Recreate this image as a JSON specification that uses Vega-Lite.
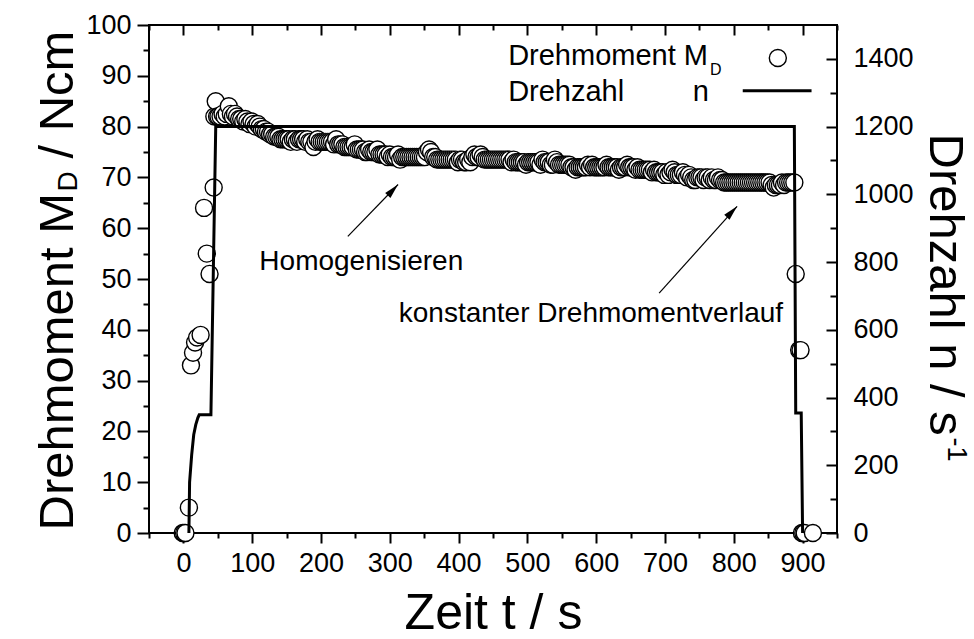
{
  "$schema": "https://vega.github.io/schema/vega-lite/v6.json",
  "width": 688,
  "height": 508,
  "autosize": {"type": "none"},
  "padding": {"left": 149, "top": 25, "right": 137, "bottom": 106},
  "background": "white",
  "config": {
    "view": {"stroke": "black", "strokeWidth": 2},
    "font": "Liberation Sans",
    "axis": {
      "labelFont": "Liberation Sans",
      "titleFont": "Liberation Sans",
      "labelColor": "black",
      "titleColor": "black",
      "tickColor": "black",
      "tickWidth": 2,
      "domain": false,
      "grid": false,
      "labelFontSize": 27,
      "titleFontWeight": "normal",
      "labelOverlap": false,
      "labelFlush": false,
      "labelBound": false,
      "format": "d"
    }
  },
  "datasets": {
    "torque": [
      {"t": -1, "m": 0}, {"t": 1, "m": 0}, {"t": 3, "m": 0}, {"t": 8, "m": 5},
      {"t": 11, "m": 33}, {"t": 14, "m": 35.5}, {"t": 17, "m": 37.5}, {"t": 20, "m": 38.5},
      {"t": 25, "m": 39}, {"t": 30, "m": 64}, {"t": 34, "m": 55}, {"t": 38, "m": 51},
      {"t": 44, "m": 68}, {"t": 45, "m": 82}, {"t": 47, "m": 85}, {"t": 49, "m": 82},
      {"t": 51, "m": 82}, {"t": 54, "m": 82}, {"t": 57, "m": 82.5}, {"t": 60, "m": 82},
      {"t": 63, "m": 82.5}, {"t": 66, "m": 84}, {"t": 69, "m": 82.5}, {"t": 72, "m": 82},
      {"t": 75, "m": 82.5}, {"t": 78, "m": 82}, {"t": 81, "m": 81.5}, {"t": 84, "m": 81.5},
      {"t": 87, "m": 81}, {"t": 90, "m": 81.5}, {"t": 93, "m": 81}, {"t": 96, "m": 80.5},
      {"t": 99, "m": 81}, {"t": 102, "m": 80.5}, {"t": 105, "m": 80}, {"t": 108, "m": 80.5},
      {"t": 111, "m": 80}, {"t": 114, "m": 79.5}, {"t": 117, "m": 79.5}, {"t": 120, "m": 79},
      {"t": 123, "m": 79}, {"t": 126, "m": 78.5}, {"t": 129, "m": 78.5}, {"t": 132, "m": 78},
      {"t": 135, "m": 78}, {"t": 138, "m": 78}, {"t": 141, "m": 77.5}, {"t": 144, "m": 77.5},
      {"t": 147, "m": 77.5}, {"t": 150, "m": 77.5}, {"t": 153, "m": 77.5}, {"t": 156, "m": 77},
      {"t": 159, "m": 77.5}, {"t": 162, "m": 77.5}, {"t": 165, "m": 77}, {"t": 168, "m": 77.5},
      {"t": 171, "m": 77.5}, {"t": 174, "m": 77.5}, {"t": 177, "m": 77}, {"t": 180, "m": 77.5},
      {"t": 183, "m": 77}, {"t": 186, "m": 77}, {"t": 189, "m": 76}, {"t": 192, "m": 77},
      {"t": 195, "m": 77.5}, {"t": 198, "m": 77}, {"t": 201, "m": 77}, {"t": 204, "m": 77},
      {"t": 207, "m": 77}, {"t": 210, "m": 77}, {"t": 213, "m": 77}, {"t": 216, "m": 77},
      {"t": 219, "m": 76.5}, {"t": 222, "m": 77.5}, {"t": 225, "m": 76.5}, {"t": 228, "m": 76.5},
      {"t": 231, "m": 76.5}, {"t": 234, "m": 76}, {"t": 237, "m": 76}, {"t": 240, "m": 76},
      {"t": 243, "m": 76}, {"t": 246, "m": 76}, {"t": 249, "m": 76.5}, {"t": 252, "m": 75.5},
      {"t": 255, "m": 75.5}, {"t": 258, "m": 75.5}, {"t": 261, "m": 75.5}, {"t": 264, "m": 75},
      {"t": 267, "m": 75}, {"t": 270, "m": 75.5}, {"t": 273, "m": 75}, {"t": 276, "m": 75},
      {"t": 279, "m": 75}, {"t": 282, "m": 75.5}, {"t": 285, "m": 74.5}, {"t": 288, "m": 74.5},
      {"t": 291, "m": 74.5}, {"t": 294, "m": 74.5}, {"t": 297, "m": 74}, {"t": 300, "m": 74.5},
      {"t": 303, "m": 74}, {"t": 306, "m": 74}, {"t": 309, "m": 74}, {"t": 312, "m": 74.5},
      {"t": 315, "m": 73.5}, {"t": 318, "m": 74}, {"t": 321, "m": 74}, {"t": 324, "m": 74},
      {"t": 327, "m": 74}, {"t": 330, "m": 74}, {"t": 333, "m": 74}, {"t": 336, "m": 74},
      {"t": 339, "m": 74}, {"t": 342, "m": 74}, {"t": 345, "m": 74}, {"t": 348, "m": 74},
      {"t": 351, "m": 74}, {"t": 354, "m": 75}, {"t": 357, "m": 75.5}, {"t": 360, "m": 75},
      {"t": 363, "m": 74}, {"t": 366, "m": 74}, {"t": 369, "m": 73.5}, {"t": 372, "m": 73.5},
      {"t": 375, "m": 73.5}, {"t": 378, "m": 73.5}, {"t": 381, "m": 73.5}, {"t": 384, "m": 73.5},
      {"t": 387, "m": 73.5}, {"t": 390, "m": 73.5}, {"t": 393, "m": 73.5}, {"t": 396, "m": 73.5},
      {"t": 399, "m": 73}, {"t": 402, "m": 73.5}, {"t": 405, "m": 73.5}, {"t": 408, "m": 73},
      {"t": 411, "m": 73}, {"t": 414, "m": 73.5}, {"t": 417, "m": 73}, {"t": 420, "m": 74},
      {"t": 423, "m": 74.5}, {"t": 426, "m": 74}, {"t": 429, "m": 74}, {"t": 432, "m": 74.5},
      {"t": 435, "m": 74}, {"t": 438, "m": 73.5}, {"t": 441, "m": 73.5}, {"t": 444, "m": 73.5},
      {"t": 447, "m": 73.5}, {"t": 450, "m": 73.5}, {"t": 453, "m": 73.5}, {"t": 456, "m": 73.5},
      {"t": 459, "m": 73.5}, {"t": 462, "m": 73.5}, {"t": 465, "m": 73.5}, {"t": 468, "m": 73.5},
      {"t": 471, "m": 73.5}, {"t": 474, "m": 73.5}, {"t": 477, "m": 73}, {"t": 480, "m": 73.5},
      {"t": 483, "m": 73}, {"t": 486, "m": 73}, {"t": 489, "m": 73}, {"t": 492, "m": 73},
      {"t": 495, "m": 73}, {"t": 498, "m": 72.5}, {"t": 501, "m": 73}, {"t": 504, "m": 73},
      {"t": 507, "m": 73}, {"t": 510, "m": 73}, {"t": 513, "m": 73}, {"t": 516, "m": 73},
      {"t": 519, "m": 72.5}, {"t": 522, "m": 73.5}, {"t": 525, "m": 73}, {"t": 528, "m": 73},
      {"t": 531, "m": 73}, {"t": 534, "m": 72.5}, {"t": 537, "m": 72.5}, {"t": 540, "m": 73.5},
      {"t": 543, "m": 73}, {"t": 546, "m": 72.5}, {"t": 549, "m": 72.5}, {"t": 552, "m": 72.5},
      {"t": 555, "m": 72.5}, {"t": 558, "m": 72.5}, {"t": 561, "m": 72.5}, {"t": 564, "m": 72},
      {"t": 567, "m": 72}, {"t": 570, "m": 71.5}, {"t": 573, "m": 72}, {"t": 576, "m": 72},
      {"t": 579, "m": 72}, {"t": 582, "m": 72}, {"t": 585, "m": 72}, {"t": 588, "m": 72.5},
      {"t": 591, "m": 72}, {"t": 594, "m": 72.5}, {"t": 597, "m": 72}, {"t": 600, "m": 72},
      {"t": 603, "m": 72}, {"t": 606, "m": 72}, {"t": 609, "m": 72}, {"t": 612, "m": 72},
      {"t": 615, "m": 72.5}, {"t": 618, "m": 72}, {"t": 621, "m": 72}, {"t": 624, "m": 72},
      {"t": 627, "m": 72}, {"t": 630, "m": 72}, {"t": 633, "m": 71.5}, {"t": 636, "m": 72},
      {"t": 639, "m": 72}, {"t": 642, "m": 72}, {"t": 645, "m": 72.5}, {"t": 648, "m": 72},
      {"t": 651, "m": 72}, {"t": 654, "m": 72}, {"t": 657, "m": 71.5}, {"t": 660, "m": 72},
      {"t": 663, "m": 71.5}, {"t": 666, "m": 71.5}, {"t": 669, "m": 71.5}, {"t": 672, "m": 71.5},
      {"t": 675, "m": 71.5}, {"t": 678, "m": 71.5}, {"t": 681, "m": 71}, {"t": 684, "m": 71.5},
      {"t": 687, "m": 71}, {"t": 690, "m": 71}, {"t": 693, "m": 71}, {"t": 696, "m": 71},
      {"t": 699, "m": 70.5}, {"t": 702, "m": 71}, {"t": 705, "m": 70.5}, {"t": 708, "m": 71},
      {"t": 711, "m": 71.5}, {"t": 714, "m": 71}, {"t": 717, "m": 70.5}, {"t": 720, "m": 70.5},
      {"t": 723, "m": 70.5}, {"t": 726, "m": 71}, {"t": 729, "m": 70.5}, {"t": 732, "m": 70},
      {"t": 735, "m": 70.5}, {"t": 738, "m": 70}, {"t": 741, "m": 69.5}, {"t": 744, "m": 69.5},
      {"t": 747, "m": 70}, {"t": 750, "m": 70}, {"t": 753, "m": 70}, {"t": 756, "m": 69.5},
      {"t": 759, "m": 70}, {"t": 762, "m": 70}, {"t": 765, "m": 69.5}, {"t": 768, "m": 70},
      {"t": 771, "m": 69.5}, {"t": 774, "m": 69.5}, {"t": 777, "m": 70}, {"t": 780, "m": 69.5},
      {"t": 783, "m": 69.5}, {"t": 786, "m": 69}, {"t": 789, "m": 69}, {"t": 792, "m": 69},
      {"t": 795, "m": 69}, {"t": 798, "m": 69}, {"t": 801, "m": 69}, {"t": 804, "m": 69},
      {"t": 807, "m": 69}, {"t": 810, "m": 69}, {"t": 813, "m": 69}, {"t": 816, "m": 69},
      {"t": 819, "m": 69}, {"t": 822, "m": 69}, {"t": 825, "m": 69}, {"t": 828, "m": 69},
      {"t": 831, "m": 69}, {"t": 834, "m": 69}, {"t": 837, "m": 69}, {"t": 840, "m": 69},
      {"t": 843, "m": 69}, {"t": 846, "m": 69}, {"t": 849, "m": 69}, {"t": 852, "m": 69},
      {"t": 855, "m": 68.5}, {"t": 858, "m": 68}, {"t": 861, "m": 68.5}, {"t": 864, "m": 68.5},
      {"t": 867, "m": 68.5}, {"t": 870, "m": 69}, {"t": 873, "m": 68.5}, {"t": 876, "m": 69},
      {"t": 879, "m": 69}, {"t": 882, "m": 69}, {"t": 885, "m": 69}, {"t": 888, "m": 69},
      {"t": 890, "m": 51}, {"t": 895, "m": 36}, {"t": 897, "m": 36}, {"t": 899, "m": 0},
      {"t": 901, "m": 0}, {"t": 903, "m": 0}, {"t": 915, "m": 0}
    ],
    "speed": [
      {"t": 8, "n": 0}, {"t": 9, "n": 150}, {"t": 12, "n": 230}, {"t": 15, "n": 290},
      {"t": 18, "n": 320}, {"t": 21, "n": 340}, {"t": 23, "n": 349}, {"t": 40, "n": 349},
      {"t": 47, "n": 1200}, {"t": 888, "n": 1200}, {"t": 890, "n": 354}, {"t": 898, "n": 354},
      {"t": 900, "n": 0}
    ],
    "notes": [
      {"t": 110.4, "m": 51.8, "label": "Homogenisieren"},
      {"t": 313, "m": 41.6, "label": "konstanter Drehmomentverlauf"}
    ],
    "arrows": [
      {"t": 239, "m": 58.4, "t2": 312, "m2": 68.6},
      {"t": 691.5, "m": 47.2, "t2": 804.8, "m2": 64.3}
    ],
    "legendText": [
      {"t": 472, "m": 92.2, "label": "Drehmoment M"},
      {"t": 472, "m": 85, "label": "Drehzahl"},
      {"t": 740.5, "m": 85, "label": "n"}
    ],
    "legendSub": [
      {"t": 765.5, "m": 90.2, "label": "D"}
    ],
    "legendLine": [
      {"t": 813, "t2": 913, "n": 1306}
    ],
    "legendMark": [
      {"t": 864, "m": 93.5}
    ]
  },
  "resolve": {
    "scale": {"y": "independent"},
    "axis": {"x": "independent", "y": "independent"}
  },
  "layer": [
    {
      "data": {"name": "torque"},
      "mark": {"type": "point", "shape": "circle", "size": 290, "filled": true, "fill": "white", "stroke": "black", "strokeWidth": 1.4, "opacity": 1},
      "encoding": {
        "x": {
          "field": "t", "type": "quantitative",
          "scale": {"domain": [-50, 950], "nice": false, "zero": false},
          "axis": {
            "orient": "bottom",
            "values": [-50, 0, 50, 100, 150, 200, 250, 300, 350, 400, 450, 500, 550, 600, 650, 700, 750, 800, 850, 900, 950],
            "tickSize": {"condition": {"test": "datum.value % 100 === 0", "value": 10}, "value": 5},
            "labelExpr": "datum.value % 100 === 0 && datum.value >= 0 && datum.value <= 900 ? datum.label : ''",
            "labelPadding": 7,
            "title": "Zeit t / s",
            "titleFontSize": 50,
            "titleAngle": 0,
            "titleAlign": "center",
            "titleBaseline": "alphabetic",
            "titleX": 344,
            "titleY": 95
          }
        },
        "y": {
          "field": "m", "type": "quantitative",
          "scale": {"domain": [0, 100], "nice": false},
          "axis": {
            "orient": "left",
            "values": [0, 5, 10, 15, 20, 25, 30, 35, 40, 45, 50, 55, 60, 65, 70, 75, 80, 85, 90, 95, 100],
            "tickSize": {"condition": {"test": "datum.value % 10 === 0", "value": 12}, "value": 6},
            "labelExpr": "datum.value % 10 === 0 ? datum.label : ''",
            "labelPadding": 6,
            "title": "Drehmoment M",
            "titleFontSize": 49,
            "titleAngle": -90,
            "titleAlign": "left",
            "titleBaseline": "alphabetic",
            "titleX": -77,
            "titleY": 505
          }
        }
      }
    },
    {
      "data": {"name": "speed"},
      "mark": {"type": "line", "color": "black", "strokeWidth": 3},
      "encoding": {
        "x": {
          "field": "t", "type": "quantitative",
          "scale": {"domain": [-50, 950], "nice": false, "zero": false},
          "axis": {
            "orient": "top",
            "values": [-50, 0, 50, 100, 150, 200, 250, 300, 350, 400, 450, 500, 550, 600, 650, 700, 750, 800, 850, 900, 950],
            "tickSize": {"condition": {"test": "datum.value % 100 === 0", "value": -10}, "value": -5},
            "labels": false,
            "title": null
          }
        },
        "y": {
          "field": "n", "type": "quantitative",
          "scale": {"domain": [0, 1500], "nice": false},
          "axis": {
            "orient": "right",
            "values": [0, 100, 200, 300, 400, 500, 600, 700, 800, 900, 1000, 1100, 1200, 1300, 1400],
            "tickSize": {"condition": {"test": "datum.value % 200 === 0", "value": -11}, "value": -7},
            "labelExpr": "datum.value % 200 === 0 ? datum.label : ''",
            "labelPadding": 27,
            "title": "Drehzahl n / s",
            "titleFontSize": 49,
            "titleAngle": 90,
            "titleAlign": "left",
            "titleBaseline": "alphabetic",
            "titleX": 92,
            "titleY": 108
          }
        }
      }
    },
    {
      "data": {"name": "notes"},
      "mark": {"type": "text", "font": "Liberation Sans", "fontSize": 28, "align": "left", "baseline": "alphabetic", "color": "black"},
      "encoding": {
        "x": {"field": "t", "type": "quantitative", "scale": {"domain": [-50, 950], "nice": false, "zero": false}, "axis": null},
        "y": {
          "field": "m", "type": "quantitative",
          "scale": {"domain": [0, 100], "nice": false},
          "axis": {
            "orient": "left", "ticks": false, "labels": false, "domain": false,
            "title": "D", "titleFontSize": 28, "titleAngle": -90, "titleAlign": "left",
            "titleBaseline": "alphabetic", "titleX": -73, "titleY": 166
          }
        },
        "text": {"field": "label"}
      }
    },
    {
      "data": {"name": "arrows"},
      "mark": {"type": "rule", "color": "black", "strokeWidth": 1.2},
      "encoding": {
        "x": {"field": "t", "type": "quantitative", "scale": {"domain": [-50, 950], "nice": false, "zero": false}, "axis": null},
        "x2": {"field": "t2"},
        "y": {
          "field": "m", "type": "quantitative",
          "scale": {"domain": [0, 100], "nice": false},
          "axis": {
            "orient": "left", "ticks": false, "labels": false, "domain": false,
            "title": "/ Ncm", "titleFontSize": 49, "titleAngle": -90, "titleAlign": "left",
            "titleBaseline": "alphabetic", "titleX": -77, "titleY": 133
          }
        },
        "y2": {"field": "m2"}
      }
    },
    {
      "data": {"name": "arrows"},
      "mark": {"type": "point", "shape": "M0,0L-0.6,2.5L0.6,2.5Z", "size": 144, "angle": 43, "filled": true, "color": "black", "opacity": 1},
      "encoding": {
        "x": {"field": "t2", "type": "quantitative", "scale": {"domain": [-50, 950], "nice": false, "zero": false}, "axis": null},
        "y": {"field": "m2", "type": "quantitative", "scale": {"domain": [0, 100], "nice": false}, "axis": null}
      }
    },
    {
      "data": {"name": "legendText"},
      "mark": {"type": "text", "font": "Liberation Sans", "fontSize": 29, "align": "left", "baseline": "alphabetic", "color": "black"},
      "encoding": {
        "x": {"field": "t", "type": "quantitative", "scale": {"domain": [-50, 950], "nice": false, "zero": false}, "axis": null},
        "y": {"field": "m", "type": "quantitative", "scale": {"domain": [0, 100], "nice": false}, "axis": null},
        "text": {"field": "label"}
      }
    },
    {
      "data": {"name": "legendSub"},
      "mark": {"type": "text", "font": "Liberation Sans", "fontSize": 16, "align": "left", "baseline": "alphabetic", "color": "black"},
      "encoding": {
        "x": {"field": "t", "type": "quantitative", "scale": {"domain": [-50, 950], "nice": false, "zero": false}, "axis": null},
        "y": {"field": "m", "type": "quantitative", "scale": {"domain": [0, 100], "nice": false}, "axis": null},
        "text": {"field": "label"}
      }
    },
    {
      "data": {"name": "legendLine"},
      "mark": {"type": "rule", "color": "black", "strokeWidth": 3},
      "encoding": {
        "x": {"field": "t", "type": "quantitative", "scale": {"domain": [-50, 950], "nice": false, "zero": false}, "axis": null},
        "x2": {"field": "t2"},
        "y": {
          "field": "n", "type": "quantitative",
          "scale": {"domain": [0, 1500], "nice": false},
          "axis": {
            "orient": "right", "ticks": false, "labels": false, "domain": false,
            "title": "-1", "titleFontSize": 27, "titleAngle": 90, "titleAlign": "left",
            "titleBaseline": "alphabetic", "titleX": 110, "titleY": 412
          }
        }
      }
    },
    {
      "data": {"name": "legendMark"},
      "mark": {"type": "point", "shape": "circle", "size": 290, "filled": true, "fill": "white", "stroke": "black", "strokeWidth": 1.4, "opacity": 1},
      "encoding": {
        "x": {"field": "t", "type": "quantitative", "scale": {"domain": [-50, 950], "nice": false, "zero": false}, "axis": null},
        "y": {"field": "m", "type": "quantitative", "scale": {"domain": [0, 100], "nice": false}, "axis": null}
      }
    }
  ]
}
